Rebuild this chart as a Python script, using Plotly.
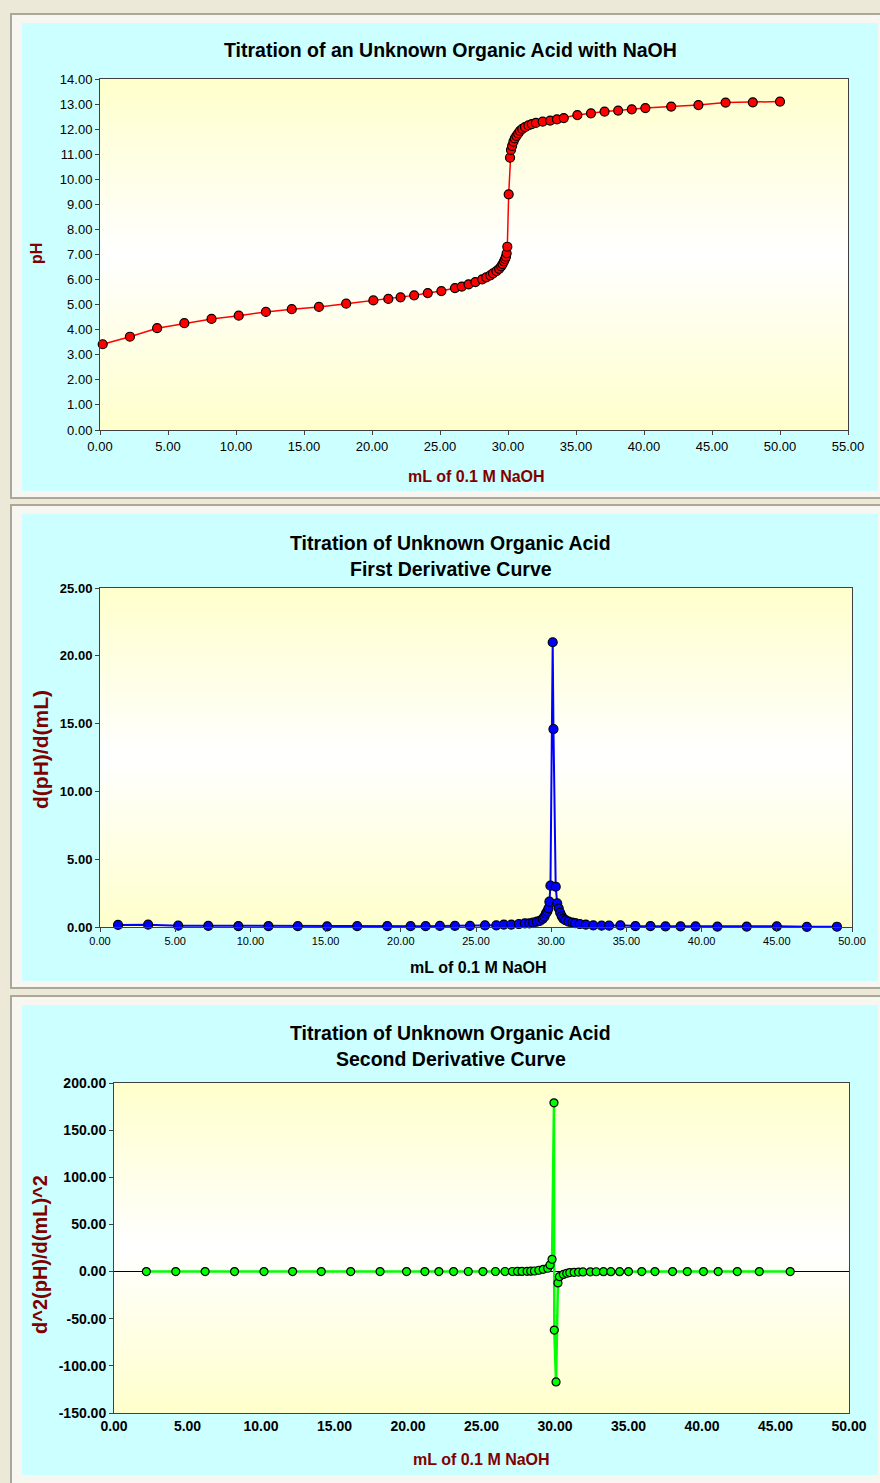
import plotly.graph_objects as go

# ---------------- data ----------------
vol_ml = [0.2, 2.2, 4.2, 6.2, 8.2, 10.2, 12.2, 14.1, 16.1, 18.1, 20.1, 21.2, 22.1, 23.1, 24.1, 25.1,
          26.1, 26.6, 27.1, 27.6, 28.1, 28.4, 28.7, 28.9, 29.15, 29.35, 29.5, 29.6, 29.7, 29.78, 29.85,
          29.9, 29.95, 30.05, 30.15, 30.22, 30.3, 30.4, 30.5, 30.62, 30.75, 30.88, 31.05, 31.25, 31.5,
          31.75, 32.05, 32.55, 33.1, 33.6, 34.1, 35.1, 36.1, 37.1, 38.1, 39.1, 40.1, 42.0, 44.0, 46.0,
          48.0, 50.0]
ph_values = [3.42, 3.72, 4.06, 4.26, 4.43, 4.56, 4.71, 4.82, 4.91, 5.04, 5.17, 5.23, 5.29, 5.37, 5.46,
             5.54, 5.66, 5.72, 5.81, 5.90, 6.01, 6.09, 6.17, 6.25, 6.34, 6.43, 6.53, 6.62, 6.73, 6.82,
             6.91, 7.05, 7.31, 9.40, 10.86, 11.17, 11.33, 11.50, 11.63, 11.73, 11.83, 11.93, 12.01,
             12.08, 12.15, 12.20, 12.25, 12.30, 12.34, 12.39, 12.44, 12.56, 12.63, 12.70, 12.74, 12.79,
             12.84, 12.90, 12.96, 13.06, 13.07, 13.10]

d1_vol = [1.2, 3.2, 5.2, 7.2, 9.2, 11.2, 13.15, 15.1, 17.1, 19.1, 20.65, 21.65, 22.6, 23.6, 24.6,
          25.6, 26.35, 26.85, 27.35, 27.85, 28.25, 28.55, 28.8, 29.05, 29.25, 29.43, 29.55, 29.65,
          29.74, 29.82, 29.88, 29.95, 30.1, 30.15, 30.3, 30.4, 30.5, 30.6, 30.7, 30.8, 30.95, 31.15,
          31.4, 31.6, 31.9, 32.3, 32.8, 33.35, 33.85, 34.6, 35.6, 36.6, 37.6, 38.6, 39.6, 41.05, 43.0,
          45.0, 47.0, 49.0]
d1_values = [0.15, 0.17, 0.10, 0.09, 0.07, 0.07, 0.06, 0.05, 0.06, 0.07, 0.06, 0.06, 0.08, 0.09, 0.08,
             0.12, 0.12, 0.18, 0.18, 0.22, 0.27, 0.27, 0.32, 0.39, 0.45, 0.60, 0.76, 1.00, 1.15, 1.38,
             1.87, 3.05, 21.0, 14.6, 2.97, 1.75, 1.38, 1.05, 0.80, 0.62, 0.50, 0.40, 0.33, 0.28, 0.22,
             0.18, 0.12, 0.10, 0.10, 0.12, 0.07, 0.07, 0.05, 0.05, 0.05, 0.03, 0.03, 0.05, 0.01, 0.02]

d2_vol = [2.2, 4.2, 6.2, 8.2, 10.2, 12.15, 14.1, 16.1, 18.1, 19.9, 21.15, 22.1, 23.1, 24.1, 25.1,
          25.95, 26.6, 27.1, 27.45, 27.75, 28.1, 28.35, 28.6, 28.9, 29.2, 29.5, 29.66, 29.8, 29.93,
          29.95, 30.07, 30.2, 30.3, 30.57, 30.8, 31.0, 31.3, 31.6, 31.9, 32.4, 32.8, 33.3, 33.8, 34.4,
          35.0, 35.9, 36.8, 38.0, 39.0, 40.1, 41.1, 42.4, 43.9, 46.0]
d2_values = [0.0, -0.05, -0.02, 0.0, 0.0, -0.01, 0.01, 0.01, -0.01, 0.0, 0.02, 0.01, 0.0, 0.05,
             0.0, 0.1, 0.1, 0.1, 0.2, 0.2, 0.3, 0.4, 0.6, 1.4, 2.4, 3.5, 7.0, 13.0, 179.0, -62.0,
             -117.0, -12.0, -5.4, -3.0, -1.8, -1.1, -0.8, -0.5, -0.4, -0.3, -0.2, -0.1, -0.1, -0.1,
             0.0, 0.0, 0.0, 0.0, 0.0, 0.0, 0.0, 0.0, 0.0, 0.0]

y3_tick_values = [-150, -100, -50, 0, 50, 100, 150, 200]
y3_tick_labels = ["-150.00", "-100.00", "-50.00", "0.00", "50.00", "100.00", "150.00", "200.00"]

title1 = "Titration of an Unknown Organic Acid with NaOH"
title2 = ["Titration of Unknown Organic Acid", "First Derivative Curve"]
title3 = ["Titration of Unknown Organic Acid", "Second Derivative Curve"]
xlabel = "mL of 0.1 M NaOH"
ylabels = ["pH", "d(pH)/d(mL)", "d^2(pH)/d(mL)^2"]

# ---------------- figure ----------------
W, H = 880, 1483
def py(p):
    return 1 - p / H
def px(p):
    return p / W

DARKRED = "#800000"
fig = go.Figure()

mk = dict(line=dict(color="#000000", width=1.2))
fig.add_trace(go.Scatter(x=vol_ml, y=ph_values, mode="lines+markers", xaxis="x", yaxis="y",
                         line=dict(color="#FF0000", width=1.5),
                         marker=dict(symbol="circle", size=9, color="#FF0000", **mk),
                         showlegend=False, cliponaxis=False))
fig.add_trace(go.Scatter(x=d1_vol, y=d1_values, mode="lines+markers", xaxis="x2", yaxis="y2",
                         line=dict(color="#0000FF", width=2),
                         marker=dict(symbol="circle", size=9, color="#0000FF", **mk),
                         showlegend=False, cliponaxis=False))
fig.add_trace(go.Scatter(x=d2_vol, y=d2_values, mode="lines+markers", xaxis="x3", yaxis="y3",
                         line=dict(color="#00FF00", width=2.5),
                         marker=dict(symbol="circle", size=8, color="#00FF00", **mk),
                         showlegend=False, cliponaxis=False))

shapes = []
# panel frames and cyan chart areas
for (f0, f1), (c0, c1) in [((14, 498), (23, 491)), ((505, 988), (514, 981)), ((996, 1495), (1005, 1475))]:
    shapes.append(dict(type="rect", xref="paper", yref="paper", x0=px(11), x1=px(884),
                       y0=py(f1), y1=py(f0), fillcolor="#F7F6F0",
                       line=dict(color="#ACA899", width=2), layer="below"))
    shapes.append(dict(type="rect", xref="paper", yref="paper", x0=px(22), x1=px(878),
                       y0=py(c1), y1=py(c0), fillcolor="#CCFFFF",
                       line=dict(width=0), layer="below"))

# vertical gradient bands inside each plot area (yellow edges -> white centre)
NB = 40
for ax in ["", "2", "3"]:
    for i in range(NB):
        a0, a1 = i / NB, (i + 1) / NB
        t = abs((a0 + a1) / 2 - 0.5) * 2
        b = int(round(255 - (255 - 204) * t))
        shapes.append(dict(type="rect", xref=f"x{ax} domain", yref=f"y{ax} domain",
                           x0=0, x1=1, y0=a0, y1=a1 + 0.002,
                           fillcolor=f"rgb(255,255,{b})", line=dict(width=0), layer="below"))

tick_font1 = dict(family="Liberation Sans, Arial", size=13, color="#000000")
narrow = "Liberation Sans Narrow, Arial Narrow, Liberation Sans"
tick_font2x = dict(family=narrow, size=11, color="#000000")
tick_font2y = dict(family=narrow, size=13, color="#000000", weight="bold")
tick_font3 = dict(family=narrow, size=14, color="#000000", weight="bold")

axis_common = dict(showgrid=False, zeroline=False, showline=True, mirror=True,
                   linecolor="#404040", linewidth=1, ticks="outside", ticklen=4,
                   tickcolor="#404040", tickformat=".2f", automargin=False)

layout = dict(
    template="none",
    width=W, height=H, autosize=False,
    margin=dict(l=0, r=0, t=0, b=0, pad=0, autoexpand=False),
    paper_bgcolor="#ECE9D8", plot_bgcolor="#FFFFCC",
    xaxis=dict(domain=[px(100), px(848)], range=[0, 55], dtick=5, tick0=0, anchor="y",
               tickfont=tick_font1, **axis_common),
    yaxis=dict(domain=[py(430), py(79)], range=[0, 14], dtick=1, tick0=0, anchor="x",
               tickfont=tick_font1, **axis_common),
    xaxis2=dict(domain=[px(100), px(852)], range=[0, 50], dtick=5, tick0=0, anchor="y2",
                tickfont=tick_font2x, **axis_common),
    yaxis2=dict(domain=[py(927), py(588)], range=[0, 25], dtick=5, tick0=0, anchor="x2",
                tickfont=tick_font2y, **axis_common),
    xaxis3=dict(domain=[px(114), px(849)], range=[0, 50], dtick=5, tick0=0, anchor="y3",
                tickfont=tick_font3, **{**axis_common, "ticks": ""}),
    yaxis3=dict(domain=[py(1413), py(1083)], range=[-150, 200], anchor="x3",
                tickmode="array", tickvals=y3_tick_values, ticktext=y3_tick_labels,
                tickfont=tick_font3, **axis_common),
    shapes=shapes,
)
fig.update_layout(**layout)
fig.layout.yaxis3.zeroline = True
fig.layout.yaxis3.zerolinecolor = "#000000"
fig.layout.yaxis3.zerolinewidth = 1

ann = []
tfont = dict(family="Liberation Sans, Arial", size=19.5, color="#000000", weight="bold")
ann.append(dict(text=title1, x=px(450), y=py(50), xref="paper", yref="paper",
                showarrow=False, font=tfont, xanchor="center", yanchor="middle"))
for txt, yy in zip(title2, [543, 569]):
    ann.append(dict(text=txt, x=px(451), y=py(yy), xref="paper", yref="paper",
                    showarrow=False, font=tfont, xanchor="center", yanchor="middle"))
for txt, yy in zip(title3, [1033, 1059]):
    ann.append(dict(text=txt, x=px(451), y=py(yy), xref="paper", yref="paper",
                    showarrow=False, font=tfont, xanchor="center", yanchor="middle"))

lfont = dict(family="Liberation Sans, Arial", size=16, color=DARKRED, weight="bold")
ann.append(dict(text=xlabel, x=px(476), y=py(476), xref="paper", yref="paper", showarrow=False,
                font=lfont, xanchor="center", yanchor="middle"))
ann.append(dict(text=xlabel, x=px(478), y=py(967), xref="paper", yref="paper", showarrow=False,
                font={**lfont, "color": "#000000"}, xanchor="center", yanchor="middle"))
ann.append(dict(text=xlabel, x=px(481), y=py(1459), xref="paper", yref="paper", showarrow=False,
                font=lfont, xanchor="center", yanchor="middle"))
for txt, xx, yy, fs in zip(ylabels, [37, 40, 40], [254, 750, 1255], [16, 21, 20]):
    ann.append(dict(text=txt, x=px(xx), y=py(yy), xref="paper", yref="paper", showarrow=False,
                    font={**lfont, "size": fs}, textangle=-90, xanchor="center", yanchor="middle"))
fig.update_layout(annotations=ann)

fig.write_html(
    "out.html",
    config={"displayModeBar": False},
    post_script=(
        "document.documentElement.style.margin='0';document.documentElement.style.padding='0';"
        "document.body.style.margin='0';document.body.style.padding='0';"
        "document.documentElement.style.overflow='hidden';document.body.style.overflow='hidden';"
    ),
)
